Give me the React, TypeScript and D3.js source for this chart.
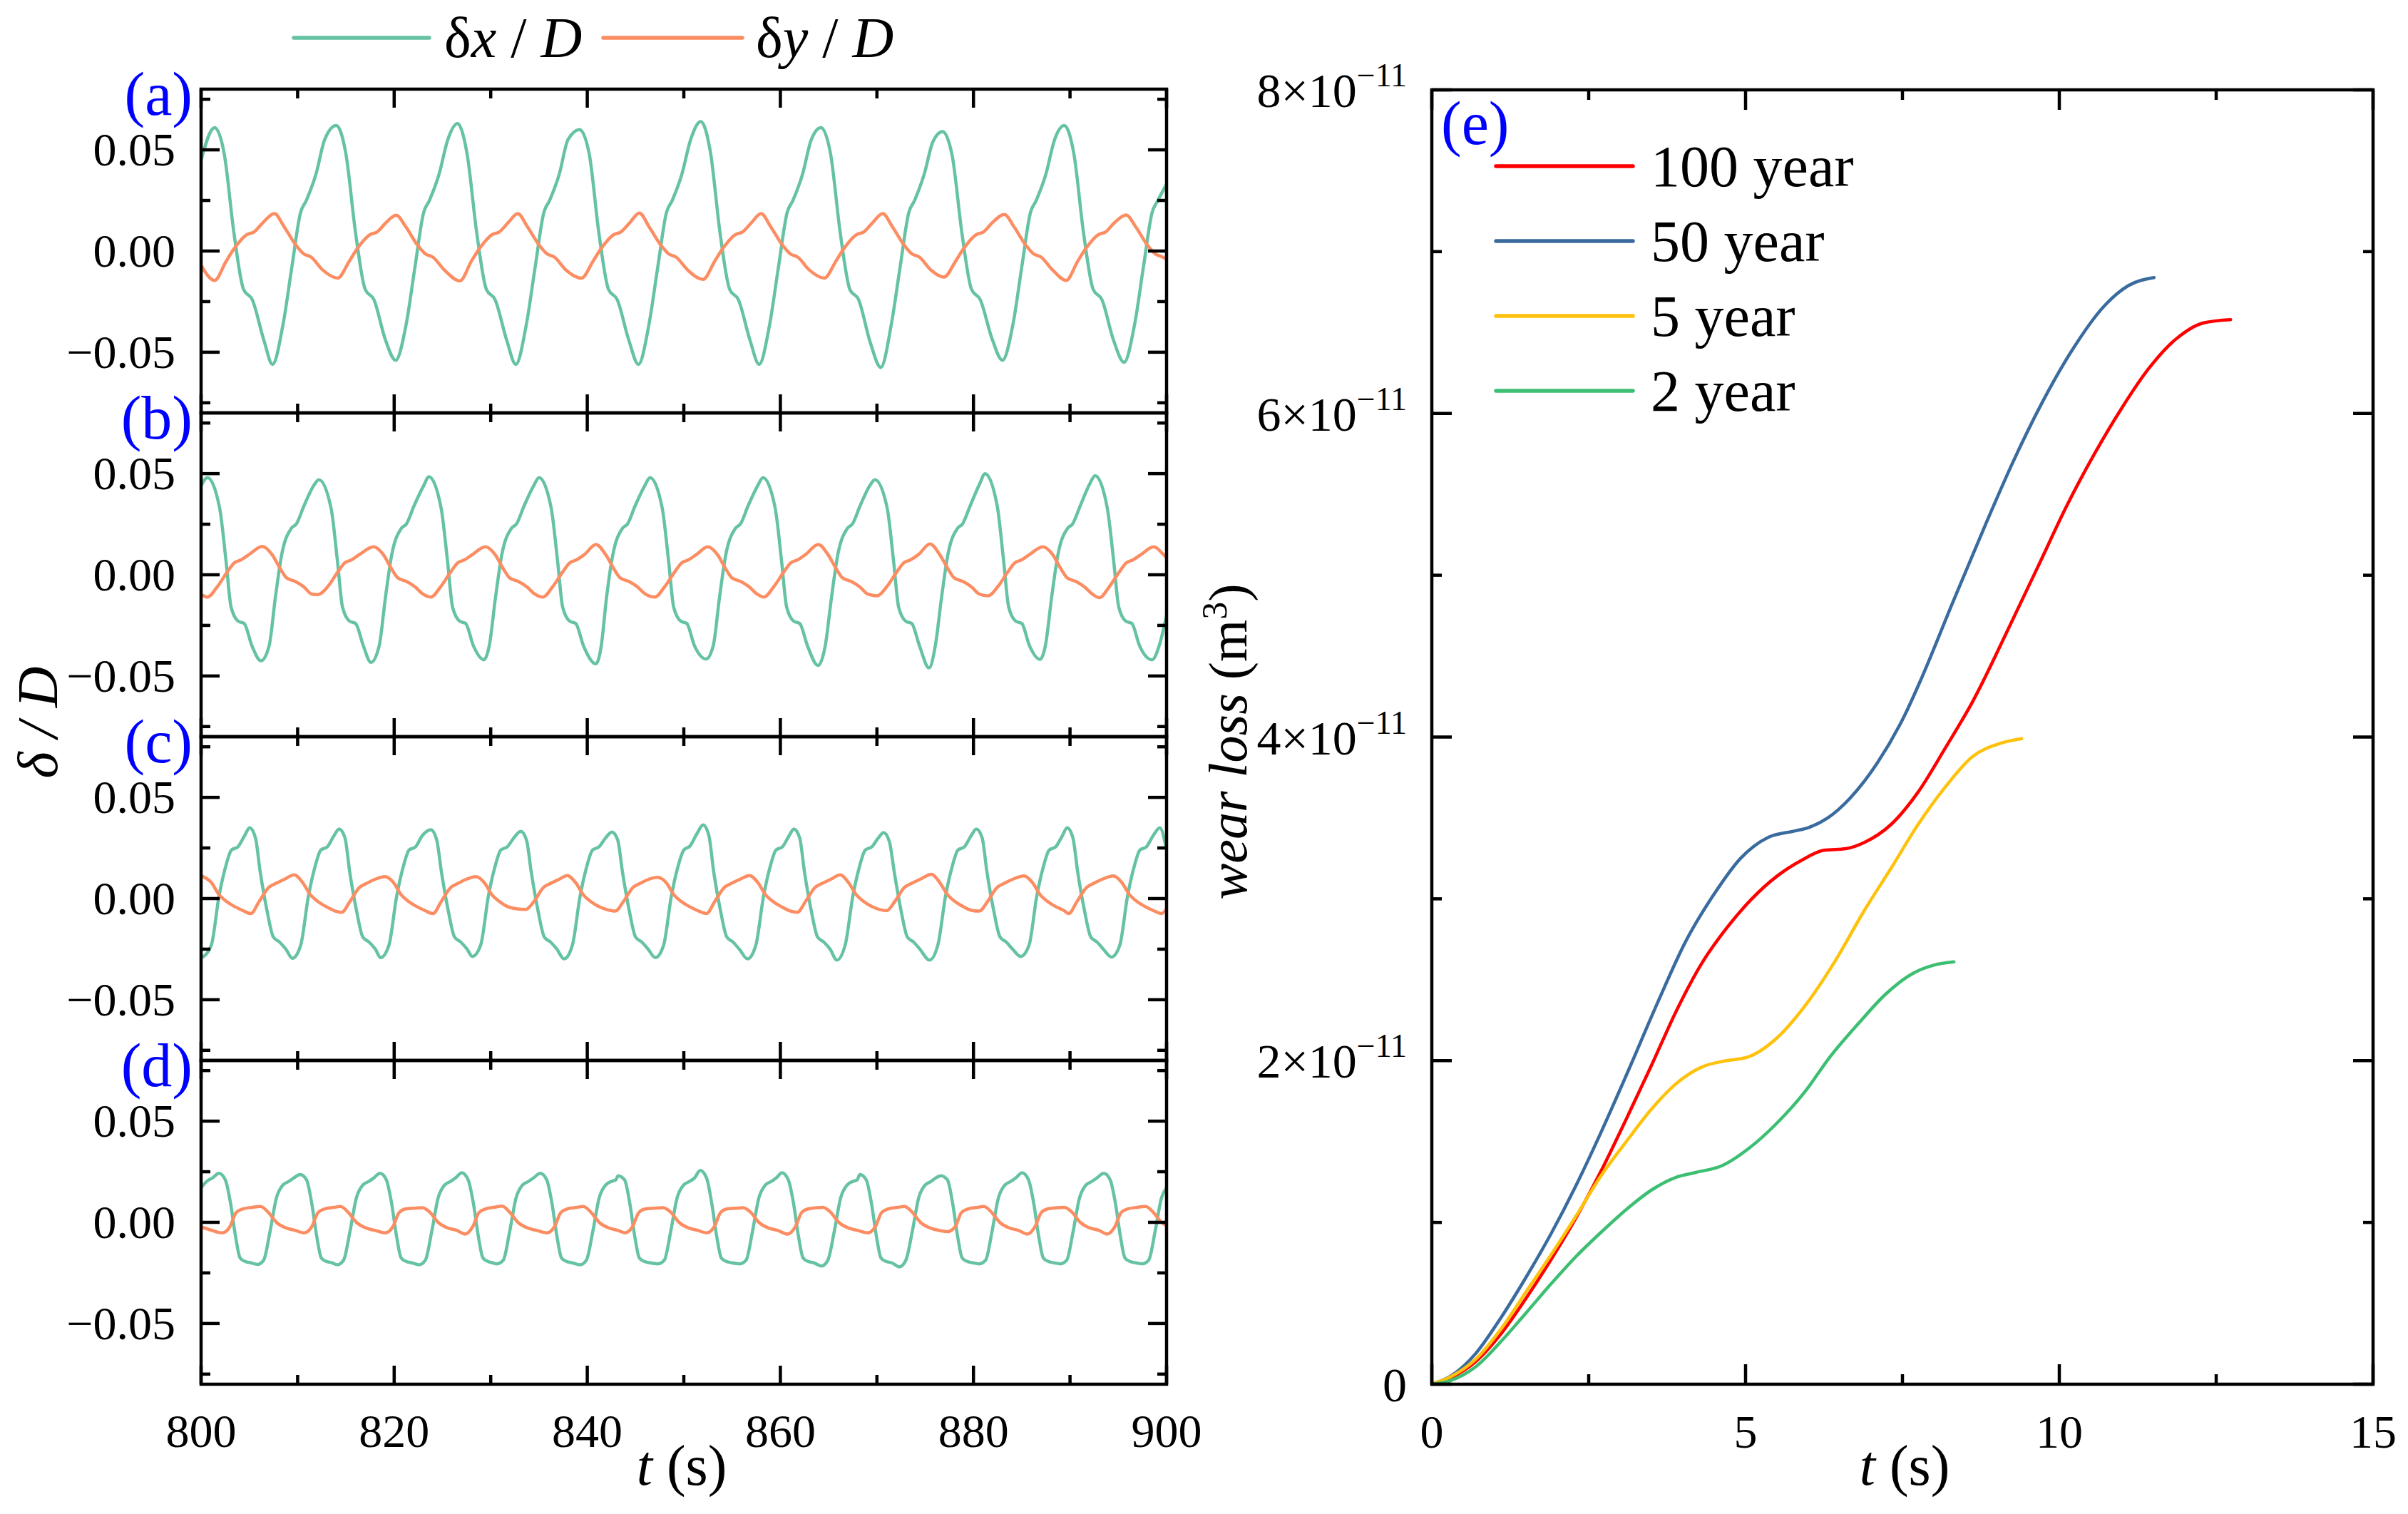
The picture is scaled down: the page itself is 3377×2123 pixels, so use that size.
//@ts-nocheck
import React, { Component } from "react";
import * as d3 from "d3";

const WIDTH = 3377;
const HEIGHT = 2123;
const FONT = "Liberation Serif, DejaVu Serif, serif";

// ---- panels (a)-(d): deflection time histories, [t (s), delta / D] ----
const dxA = [
  [800,0.045],[801.4,0.061],[802.4,0.048],[803.4,0.009],[804.4,-0.019],[805.3,-0.024],[806.5,-0.044],[807.4,-0.056],
  [808.5,-0.036],[809.4,-0.008],[810.3,0.019],[810.9,0.025],[811.9,0.038],[812.8,0.055],
  [814.0,0.062],[815.0,0.048],[816.0,0.009],[817.0,-0.019],[817.9,-0.024],[819.1,-0.044],[820.15,-0.054],
  [821.25,-0.036],[822.15,-0.008],[823.05,0.019],[823.65,0.025],[824.65,0.038],[825.55,0.055],
  [826.55,0.063],[827.55,0.048],[828.55,0.009],[829.55,-0.019],[830.45,-0.024],[831.65,-0.044],[832.6,-0.056],
  [833.7,-0.036],[834.6,-0.008],[835.5,0.019],[836.1,0.025],[837.1,0.038],[838.0,0.055],
  [839.2,0.060],[840.2,0.048],[841.2,0.009],[842.2,-0.019],[843.1,-0.024],[844.3,-0.044],[845.3,-0.056],
  [846.4,-0.036],[847.3,-0.008],[848.2,0.019],[848.8,0.025],[849.8,0.038],[850.7,0.055],
  [851.75,0.064],[852.75,0.049],[853.75,0.009],[854.75,-0.019],[855.65,-0.024],[856.85,-0.044],[857.8,-0.056],
  [858.9,-0.036],[859.8,-0.008],[860.7,0.019],[861.3,0.025],[862.3,0.038],[863.2,0.055],
  [864.2,0.061],[865.2,0.048],[866.2,0.009],[867.2,-0.019],[868.1,-0.024],[869.3,-0.045],[870.4,-0.0575],
  [871.5,-0.036],[872.4,-0.008],[873.3,0.019],[873.9,0.025],[874.9,0.038],[875.8,0.054],
  [876.8,0.059],[877.8,0.047],[878.8,0.009],[879.8,-0.019],[880.7,-0.024],[881.9,-0.043],[883.0,-0.054],
  [884.1,-0.036],[885.0,-0.008],[885.9,0.019],[886.5,0.025],[887.5,0.038],[888.4,0.055],
  [889.4,0.062],[890.4,0.048],[891.4,0.009],[892.4,-0.019],[893.3,-0.024],[894.5,-0.044],[895.6,-0.055],
  [896.7,-0.036],[897.6,-0.008],[898.5,0.019],[899.1,0.025],[900,0.033],
];
const dyA = [
  [800,-0.007],[801.4,-0.0145],[802.6,-0.005],[803.4,0.001],[804.7,0.008],[805.5,0.0095],[806.4,0.014],[807.6,0.0185],
  [808.6,0.012],[809.8,0.003],[810.6,-0.0013],[811.4,-0.003],[812.6,-0.0094],
  [814.15,-0.0134],[815.35,-0.005],[816.15,0.001],[817.45,0.008],[818.25,0.0095],[819.15,0.014],[820.2,0.0177],
  [821.2,0.012],[822.4,0.003],[823.2,-0.0013],[824.0,-0.003],[825.2,-0.0094],
  [826.8,-0.0148],[828.0,-0.005],[828.8,0.001],[830.1,0.008],[830.9,0.0095],[831.8,0.014],[832.8,0.0185],
  [833.8,0.012],[835.0,0.003],[835.8,-0.0013],[836.6,-0.003],[837.8,-0.0094],
  [839.4,-0.0134],[840.6,-0.005],[841.4,0.001],[842.7,0.008],[843.5,0.0095],[844.4,0.014],[845.4,0.0188],
  [846.4,0.012],[847.6,0.003],[848.4,-0.0013],[849.2,-0.003],[850.4,-0.0094],
  [852.0,-0.014],[853.2,-0.005],[854.0,0.001],[855.3,0.008],[856.1,0.0095],[857.0,0.014],[858.0,0.0185],
  [859.0,0.012],[860.2,0.003],[861.0,-0.0013],[861.8,-0.003],[863.0,-0.0094],
  [864.55,-0.0134],[865.75,-0.005],[866.55,0.001],[867.85,0.008],[868.65,0.0095],[869.55,0.014],[870.6,0.0185],
  [871.6,0.012],[872.8,0.003],[873.6,-0.0013],[874.4,-0.003],[875.6,-0.0094],
  [876.95,-0.0129],[878.15,-0.005],[878.95,0.001],[880.25,0.008],[881.05,0.0095],[881.95,0.014],[883.2,0.0181],
  [884.2,0.012],[885.4,0.003],[886.2,-0.0013],[887.0,-0.003],[888.2,-0.0094],
  [889.6,-0.0145],[890.8,-0.005],[891.6,0.001],[892.9,0.008],[893.7,0.0095],[894.6,0.014],[895.8,0.0178],
  [896.8,0.012],[898.0,0.003],[898.8,-0.0013],[899.6,-0.003],[900,-0.004],
];

const dxB = [
  [800,0.044],[800.66,0.048],[801.92,0.033],[802.58,0.007],[803.11,-0.016],[803.86,-0.023],[804.46,-0.024],[805.26,-0.035],[806.2,-0.0425],
  [807.05,-0.035],[807.7,-0.011],[808.35,0.010],[809.35,0.023],[809.85,0.025],[810.65,0.034],[811.65,0.044],
  [812.2,0.047],[813.46,0.033],[814.12,0.007],[814.65,-0.016],[815.4,-0.023],[816.0,-0.024],[816.8,-0.035],[817.6,-0.0433],
  [818.45,-0.035],[819.1,-0.011],[819.75,0.010],[820.75,0.023],[821.25,0.025],[822.05,0.034],[823.05,0.044],
  [823.6,0.0485],[824.86,0.033],[825.52,0.007],[826.05,-0.016],[826.8,-0.023],[827.4,-0.024],[828.2,-0.035],[829.3,-0.042],
  [829.85,-0.035],[830.5,-0.011],[831.15,0.010],[832.15,0.023],[832.65,0.025],[833.45,0.034],[834.45,0.044],
  [835.0,0.048],[836.26,0.033],[836.92,0.007],[837.45,-0.016],[838.2,-0.023],[838.8,-0.024],[839.6,-0.035],[840.9,-0.044],
  [841.45,-0.035],[842.0,-0.011],[842.65,0.010],[843.65,0.023],[844.15,0.025],[844.95,0.034],[845.95,0.044],
  [846.5,0.048],[847.76,0.033],[848.42,0.007],[848.95,-0.016],[849.7,-0.023],[850.3,-0.024],[851.1,-0.035],[852.3,-0.0416],
  [853.05,-0.035],[853.7,-0.011],[854.35,0.010],[855.35,0.023],[855.85,0.025],[856.65,0.034],[857.65,0.044],
  [858.2,0.048],[859.46,0.033],[860.12,0.007],[860.65,-0.016],[861.4,-0.023],[862.0,-0.024],[862.8,-0.035],[863.9,-0.0448],
  [864.65,-0.035],[865.3,-0.011],[865.95,0.010],[866.95,0.023],[867.45,0.025],[868.25,0.034],[869.25,0.044],
  [869.8,0.047],[871.06,0.033],[871.72,0.007],[872.25,-0.016],[873.0,-0.023],[873.6,-0.024],[874.4,-0.035],[875.4,-0.046],
  [876.05,-0.035],[876.7,-0.011],[877.35,0.010],[878.35,0.023],[878.85,0.025],[879.65,0.034],[880.65,0.045],
  [881.2,0.050],[882.46,0.034],[883.12,0.007],[883.65,-0.016],[884.4,-0.023],[885.0,-0.024],[885.8,-0.035],[886.9,-0.0418],
  [887.45,-0.035],[888.1,-0.011],[888.75,0.010],[889.75,0.023],[890.25,0.025],[891.05,0.034],[892.05,0.045],
  [892.6,0.049],[893.86,0.033],[894.52,0.007],[895.05,-0.016],[895.8,-0.023],[896.4,-0.024],[897.2,-0.035],[898.5,-0.042],
  [899.3,-0.034],[900,-0.02],
];
const dyB = [
  [800,-0.0098],[800.66,-0.011],[801.66,-0.006],[802.66,0.001],[803.46,0.006],[804.11,0.0073],[804.96,0.010],[806.35,0.014],
  [807.35,0.010],[808.2,0.003],[808.85,-0.0015],[809.75,-0.0033],[810.65,-0.006],[811.45,-0.0095],
  [812.1,-0.0098],[813.1,-0.006],[814.1,0.001],[814.9,0.006],[815.55,0.0073],[816.4,0.010],[817.87,0.0138],
  [818.87,0.010],[819.72,0.003],[820.37,-0.0015],[821.27,-0.0033],[822.17,-0.006],[822.97,-0.0095],
  [823.8,-0.011],[824.8,-0.006],[825.8,0.001],[826.6,0.006],[827.25,0.0073],[828.1,0.010],[829.45,0.0138],
  [830.45,0.010],[831.3,0.003],[831.95,-0.0015],[832.85,-0.0033],[833.75,-0.006],[834.55,-0.0095],
  [835.4,-0.011],[836.4,-0.006],[837.4,0.001],[838.2,0.006],[838.85,0.0073],[839.7,0.010],[840.9,0.015],
  [841.9,0.010],[842.75,0.003],[843.4,-0.0015],[844.3,-0.0033],[845.2,-0.006],[846.0,-0.0095],
  [847.0,-0.011],[848.0,-0.006],[849.0,0.001],[849.8,0.006],[850.45,0.0073],[851.3,0.010],[852.48,0.0138],
  [853.48,0.010],[854.33,0.003],[854.98,-0.0015],[855.88,-0.0033],[856.78,-0.006],[857.58,-0.0095],
  [858.3,-0.011],[859.3,-0.006],[860.3,0.001],[861.1,0.006],[861.75,0.0073],[862.6,0.010],[863.93,0.015],
  [864.93,0.010],[865.78,0.003],[866.43,-0.0015],[867.33,-0.0033],[868.23,-0.006],[869.03,-0.0095],
  [870.0,-0.0104],[871.0,-0.006],[872.0,0.001],[872.8,0.006],[873.45,0.0073],[874.3,0.010],[875.5,0.0152],
  [876.5,0.010],[877.35,0.003],[878.0,-0.0015],[878.9,-0.0033],[879.8,-0.006],[880.6,-0.0095],
  [881.5,-0.0104],[882.5,-0.006],[883.5,0.001],[884.3,0.006],[884.95,0.0073],[885.8,0.010],[887.2,0.0138],
  [888.2,0.010],[889.05,0.003],[889.7,-0.0015],[890.6,-0.0033],[891.5,-0.006],[892.3,-0.0095],
  [893.05,-0.0113],[894.05,-0.006],[895.05,0.001],[895.85,0.006],[896.5,0.0073],[897.35,0.010],[898.68,0.0138],
  [899.68,0.010],[900,0.0085],
];

const dxC = [
  [800,-0.0295],[801.06,-0.023],[801.85,0.001],[802.5,0.015],[803.15,0.024],[803.8,0.0255],[804.5,0.031],[805.03,0.035],
  [805.63,0.030],[806.13,0.013],[806.83,-0.006],[807.48,-0.019],[808.13,-0.0215],[808.78,-0.025],[809.46,-0.0295],
  [810.32,-0.023],[811.11,0.001],[811.76,0.015],[812.41,0.024],[813.06,0.0255],[813.76,0.031],[814.3,0.0344],
  [814.9,0.030],[815.4,0.013],[816.1,-0.006],[816.75,-0.019],[817.4,-0.0215],[818.05,-0.025],[818.6,-0.0292],
  [819.46,-0.023],[820.25,0.001],[820.9,0.015],[821.55,0.024],[822.2,0.0255],[822.9,0.031],[823.8,0.034],
  [824.4,0.029],[824.9,0.013],[825.6,-0.006],[826.25,-0.019],[826.9,-0.0215],[827.55,-0.025],[828.1,-0.0286],
  [828.96,-0.023],[829.75,0.001],[830.4,0.015],[831.05,0.024],[831.7,0.0255],[832.4,0.030],[833.1,0.0332],
  [833.7,0.029],[834.2,0.013],[834.9,-0.006],[835.55,-0.019],[836.2,-0.0215],[836.85,-0.025],[837.6,-0.0298],
  [838.46,-0.023],[839.25,0.001],[839.9,0.015],[840.55,0.024],[841.2,0.0255],[841.9,0.030],[842.55,0.0329],
  [843.15,0.029],[843.65,0.013],[844.35,-0.006],[845.0,-0.019],[845.65,-0.0215],[846.3,-0.025],[847.05,-0.0292],
  [847.91,-0.023],[848.7,0.001],[849.35,0.015],[850.0,0.024],[850.65,0.026],[851.35,0.032],[852.0,0.0364],
  [852.6,0.031],[853.1,0.013],[853.8,-0.006],[854.45,-0.019],[855.1,-0.0215],[855.75,-0.025],[856.6,-0.0298],
  [857.46,-0.023],[858.25,0.001],[858.9,0.015],[859.55,0.024],[860.2,0.0255],[860.9,0.031],[861.4,0.0344],
  [862.0,0.030],[862.5,0.013],[863.2,-0.006],[863.85,-0.019],[864.5,-0.0215],[865.15,-0.025],[865.85,-0.0304],
  [866.71,-0.023],[867.5,0.001],[868.15,0.015],[868.8,0.024],[869.45,0.0255],[870.15,0.030],[870.7,0.0326],
  [871.3,0.028],[871.8,0.013],[872.5,-0.006],[873.15,-0.019],[873.8,-0.0215],[874.45,-0.025],[875.45,-0.0304],
  [876.31,-0.023],[877.1,0.001],[877.75,0.015],[878.4,0.024],[879.05,0.0255],[879.75,0.031],[880.3,0.0344],
  [880.9,0.030],[881.4,0.013],[882.1,-0.006],[882.75,-0.019],[883.4,-0.0215],[884.05,-0.025],[884.9,-0.0286],
  [885.76,-0.023],[886.55,0.001],[887.2,0.015],[887.85,0.024],[888.5,0.0255],[889.2,0.031],[889.7,0.035],
  [890.3,0.030],[890.8,0.013],[891.5,-0.006],[892.15,-0.019],[892.8,-0.0215],[893.45,-0.025],[894.3,-0.0289],
  [895.16,-0.023],[895.95,0.001],[896.6,0.015],[897.25,0.024],[897.9,0.0255],[898.6,0.031],[899.3,0.035],
  [900,0.024],
];
const dyC = [
  [800,0.0112],[801.05,0.008],[801.85,0.002],[802.65,-0.0015],[803.5,-0.004],[804.35,-0.006],[805.16,-0.0074],
  [806.01,-0.0015],[807.01,0.0055],[807.66,0.0073],[808.66,0.0096],[809.66,0.0117],
  [810.51,0.008],[811.31,0.002],[812.11,-0.0015],[812.96,-0.004],[813.81,-0.006],[814.56,-0.0068],
  [815.41,-0.0015],[816.41,0.0055],[817.06,0.0073],[818.06,0.0096],[819.06,0.0108],
  [819.91,0.008],[820.71,0.002],[821.51,-0.0015],[822.36,-0.004],[823.21,-0.006],[824.02,-0.0074],
  [824.87,-0.0015],[825.87,0.0055],[826.52,0.0073],[827.52,0.0096],[828.46,0.0108],
  [829.31,0.008],[830.11,0.002],[830.91,-0.0015],[831.76,-0.004],[832.61,-0.005],[833.62,-0.0054],
  [834.47,-0.0015],[835.47,0.0055],[836.12,0.0073],[837.12,0.0096],[837.92,0.0114],
  [838.77,0.008],[839.57,0.002],[840.37,-0.0015],[841.22,-0.004],[842.07,-0.0055],[842.89,-0.0062],
  [843.74,-0.0015],[844.74,0.0055],[845.39,0.0073],[846.39,0.0096],[847.3,0.0105],
  [848.15,0.008],[848.95,0.002],[849.75,-0.0015],[850.6,-0.004],[851.45,-0.006],[852.35,-0.0074],
  [853.2,-0.0015],[854.2,0.0055],[854.85,0.0073],[855.85,0.0096],[856.8,0.0114],
  [857.65,0.008],[858.45,0.002],[859.25,-0.0015],[860.1,-0.004],[860.95,-0.006],[861.75,-0.0068],
  [862.6,-0.0015],[863.6,0.0055],[864.25,0.0073],[865.25,0.0096],[866.2,0.0117],
  [867.05,0.008],[867.85,0.002],[868.65,-0.0015],[869.5,-0.004],[870.35,-0.0055],[871.0,-0.006],
  [871.85,-0.0015],[872.85,0.0055],[873.5,0.0073],[874.5,0.0096],[875.65,0.012],
  [876.5,0.008],[877.3,0.002],[878.1,-0.0015],[878.95,-0.004],[879.8,-0.0058],[880.6,-0.0062],
  [881.45,-0.0015],[882.45,0.0055],[883.1,0.0073],[884.1,0.0096],[885.24,0.0112],
  [886.09,0.008],[886.89,0.002],[887.69,-0.0015],[888.54,-0.004],[889.39,-0.006],[889.87,-0.0074],
  [890.72,-0.0015],[891.72,0.0055],[892.37,0.0073],[893.37,0.0096],[894.5,0.0112],
  [895.35,0.008],[896.15,0.002],[896.95,-0.0015],[897.8,-0.004],[898.65,-0.006],[899.47,-0.0074],[900,-0.005],
];

const dxD = [
  [800,0.017],[800.6,0.0203],[801.2,0.022],[801.85,0.0242],
  [802.51,0.021],[803.05,0.0095],[803.57,-0.007],[804.03,-0.0175],[804.55,-0.0193],[805.15,-0.020],[805.82,-0.0208],
  [806.48,-0.0187],[807.14,-0.0046],[807.8,0.012],[808.47,0.0184],[809.12,0.0203],[809.62,0.022],[810.26,0.0236],
  [810.92,0.021],[811.46,0.0095],[811.98,-0.007],[812.44,-0.0175],[812.96,-0.0193],[813.56,-0.020],[814.1,-0.021],
  [814.76,-0.0187],[815.42,-0.0046],[816.08,0.012],[816.75,0.0184],[817.4,0.0203],[817.9,0.022],[818.53,0.0242],
  [819.19,0.021],[819.73,0.0095],[820.25,-0.007],[820.71,-0.0175],[821.23,-0.0193],[821.83,-0.020],[822.57,-0.021],
  [823.23,-0.0187],[823.89,-0.0046],[824.55,0.012],[825.22,0.0184],[825.87,0.0203],[826.37,0.022],[827.0,0.0245],
  [827.66,0.021],[828.2,0.0095],[828.72,-0.007],[829.18,-0.0175],[829.7,-0.0193],[830.2,-0.020],[830.64,-0.0205],
  [831.3,-0.0187],[831.96,-0.0046],[832.62,0.012],[833.29,0.0184],[833.94,0.0203],[834.44,0.022],[835.14,0.0242],
  [835.8,0.021],[836.34,0.0095],[836.86,-0.007],[837.32,-0.0175],[837.84,-0.0193],[838.44,-0.020],[839.25,-0.021],
  [839.91,-0.0187],[840.57,-0.0046],[841.23,0.012],[841.9,0.0184],[842.55,0.0203],[842.95,0.021],[843.2,0.023],
  [843.86,0.021],[844.4,0.0095],[844.92,-0.007],[845.38,-0.0175],[845.9,-0.0193],[846.5,-0.020],[847.32,-0.0205],
  [847.98,-0.0187],[848.64,-0.0046],[849.3,0.012],[849.97,0.0184],[850.62,0.0203],[851.12,0.022],[851.69,0.0256],
  [852.35,0.022],[852.89,0.0095],[853.41,-0.007],[853.87,-0.0175],[854.39,-0.0193],[854.99,-0.020],[855.79,-0.0205],
  [856.45,-0.0187],[857.11,-0.0046],[857.77,0.012],[858.44,0.0184],[859.09,0.0203],[859.59,0.022],[860.16,0.0245],
  [860.82,0.021],[861.36,0.0095],[861.88,-0.007],[862.34,-0.0175],[862.86,-0.0193],[863.46,-0.020],[864.26,-0.0216],
  [864.92,-0.0187],[865.58,-0.0046],[866.24,0.012],[866.91,0.0184],[867.56,0.0203],[867.96,0.021],[868.23,0.0236],
  [868.89,0.021],[869.43,0.0095],[869.95,-0.007],[870.41,-0.0175],[870.93,-0.0193],[871.53,-0.020],[872.34,-0.022],
  [873.0,-0.0187],[873.66,-0.0046],[874.32,0.012],[874.99,0.0184],[875.64,0.0203],[876.1,0.022],[876.64,0.023],
  [877.3,0.021],[877.84,0.0095],[878.36,-0.007],[878.82,-0.0175],[879.34,-0.0193],[879.94,-0.020],[880.6,-0.0205],
  [881.26,-0.0187],[881.92,-0.0046],[882.58,0.012],[883.25,0.0184],[883.9,0.0203],[884.4,0.022],[885.04,0.0245],
  [885.7,0.021],[886.24,0.0095],[886.76,-0.007],[887.22,-0.0175],[887.74,-0.0193],[888.34,-0.020],[889.0,-0.0205],
  [889.66,-0.0187],[890.32,-0.0046],[890.98,0.012],[891.65,0.0184],[892.3,0.0203],[892.8,0.022],[893.5,0.0242],
  [894.16,0.021],[894.7,0.0095],[895.22,-0.007],[895.68,-0.0175],[896.2,-0.0193],[896.8,-0.020],[897.49,-0.0205],
  [898.15,-0.0187],[898.81,-0.0046],[899.47,0.012],[900,0.017],
];
const dyD = [
  [800,-0.0022],[801.0,-0.0038],[802.18,-0.0052],
  [802.98,-0.0022],[803.63,0.0048],[804.28,0.0066],[805.28,0.0074],[806.15,0.0078],
  [806.95,0.005],[807.8,0.0],[808.8,-0.0028],[809.75,-0.004],[810.66,-0.0052],
  [811.46,-0.0022],[812.11,0.0048],[812.76,0.0066],[813.76,0.0074],[814.43,0.0078],
  [815.23,0.005],[816.08,0.0],[817.08,-0.0028],[818.03,-0.004],[819.06,-0.0052],
  [819.86,-0.0022],[820.51,0.0048],[821.16,0.0066],[822.16,0.0070],[822.9,0.0072],
  [823.7,0.005],[824.55,0.0],[825.55,-0.0028],[826.5,-0.004],[827.33,-0.0058],
  [828.13,-0.0022],[828.78,0.0048],[829.43,0.0066],[830.43,0.0075],[831.17,0.008],
  [831.97,0.005],[832.82,0.0],[833.82,-0.0028],[834.77,-0.004],[835.8,-0.0052],
  [836.6,-0.0022],[837.25,0.0048],[837.9,0.0066],[838.9,0.0074],[839.58,0.0078],
  [840.38,0.005],[841.23,0.0],[842.23,-0.0028],[843.18,-0.004],[843.88,-0.0052],
  [844.68,-0.0022],[845.33,0.0048],[845.98,0.0066],[846.98,0.0070],[847.85,0.0072],
  [848.65,0.005],[849.5,0.0],[850.5,-0.0028],[851.45,-0.004],[852.35,-0.0052],
  [853.15,-0.0022],[853.8,0.0048],[854.45,0.0066],[855.45,0.0070],[856.12,0.0072],
  [856.92,0.005],[857.77,0.0],[858.77,-0.0028],[859.72,-0.004],[860.75,-0.0058],
  [861.55,-0.0022],[862.2,0.0048],[862.85,0.0066],[863.75,0.0072],[864.4,0.0074],
  [865.2,0.005],[866.05,0.0],[867.05,-0.0028],[868.0,-0.004],[869.03,-0.0052],
  [869.83,-0.0022],[870.48,0.0048],[871.13,0.0066],[872.13,0.0074],[872.86,0.0078],
  [873.66,0.005],[874.51,0.0],[875.51,-0.0028],[876.46,-0.004],[877.3,-0.0046],
  [878.1,-0.0022],[878.75,0.0048],[879.4,0.0066],[880.4,0.0074],[881.07,0.0078],
  [881.87,0.005],[882.72,0.0],[883.72,-0.0028],[884.67,-0.004],[885.57,-0.0058],
  [886.37,-0.0022],[887.02,0.0048],[887.67,0.0066],[888.67,0.0072],[889.41,0.0074],
  [890.21,0.005],[891.06,0.0],[892.06,-0.0028],[893.01,-0.004],[893.84,-0.0058],
  [894.64,-0.0022],[895.29,0.0048],[895.94,0.0066],[896.94,0.0074],[897.82,0.0078],
  [898.62,0.005],[899.47,0.0],[900,-0.0015],
];

// ---- panel (e): wear loss, [t (s), wear loss in 1e-11 m^3] ----
const wear100 = [
  [0,0],[0.3,0.04],[0.7,0.14],[1.1,0.31],[1.5,0.53],[1.9,0.77],[2.3,1.03],[2.7,1.32],[3.1,1.64],[3.5,1.97],
  [3.9,2.31],[4.3,2.60],[4.7,2.82],[5.1,3.0],[5.5,3.14],[5.9,3.24],[6.25,3.30],[6.6,3.31],[6.9,3.35],[7.32,3.46],
  [7.75,3.66],[8.18,3.93],[8.62,4.22],[9.25,4.72],[9.68,5.07],[10.12,5.43],[10.56,5.75],[10.99,6.03],[11.43,6.28],
  [11.86,6.46],[12.3,6.56],[12.73,6.58],
];
const wear50 = [
  [0,0],[0.3,0.05],[0.7,0.19],[1.1,0.41],[1.5,0.66],[1.9,0.93],[2.3,1.23],[2.7,1.56],[3.1,1.91],[3.6,2.36],
  [4.05,2.74],[4.5,3.03],[4.92,3.25],[5.36,3.38],[5.79,3.42],[6.0,3.44],[6.31,3.50],[6.66,3.62],[7.1,3.84],
  [7.53,4.13],[7.8,4.36],[8.3,4.83],[8.82,5.31],[9.25,5.69],[9.73,6.07],[10.17,6.37],[10.73,6.67],[11.1,6.79],[11.51,6.84],
];
const wear5 = [
  [0,0],[0.3,0.046],[0.7,0.155],[1.1,0.34],[1.5,0.57],[1.9,0.80],[2.3,1.04],[2.7,1.29],[3.1,1.50],[3.5,1.70],
  [3.9,1.86],[4.3,1.96],[4.7,2.0],[5.02,2.02],[5.5,2.14],[5.93,2.33],[6.45,2.63],[6.88,2.92],[7.32,3.19],
  [7.75,3.46],[8.18,3.69],[8.62,3.88],[9.05,3.96],[9.4,3.99],
];
const wear2 = [
  [0,0],[0.3,0.023],[0.7,0.108],[1.1,0.263],[1.5,0.44],[1.9,0.62],[2.3,0.79],[2.7,0.94],[3.1,1.08],[3.5,1.20],
  [3.9,1.28],[4.22,1.31],[4.62,1.35],[5.06,1.46],[5.49,1.61],[5.93,1.80],[6.36,2.03],[6.8,2.23],[7.23,2.41],
  [7.67,2.54],[8.0,2.59],[8.32,2.61],
];

const tTicks = [800, 820, 840, 860, 880, 900];
const tMinor = [810, 830, 850, 870, 890];
const deltaTicks = [-0.05, 0, 0.05];
const deltaMinor = [-0.075, -0.025, 0.025, 0.075];
const wearTTicks = [0, 5, 10, 15];
const wearTMinor = [2.5, 7.5, 12.5];
const wearTicks = [0, 2, 4, 6, 8];
const wearMinor = [1, 3, 5, 7];
const panelNames = ["(a)", "(b)", "(c)", "(d)"];
const wearNames = ["100 year", "50 year", "5 year", "2 year"];

const panels = [
  { dx: dxA, dy: dyA },
  { dx: dxB, dy: dyB },
  { dx: dxC, dy: dyC },
  { dx: dxD, dy: dyD },
];
const wearSeries = [wear100, wear50, wear5, wear2];
const wearColors = ["#ff0000", "#3a6b9f", "#fec20c", "#3cbf72"];
const DX_COLOR = "#66c2a5";
const DY_COLOR = "#fc8d62";

class DeflectionWearChart extends Component {
  divRef = React.createRef();

  componentDidMount() {
    const root = d3.select(this.divRef.current);
    root.selectAll("*").remove();

    const svg = root
      .append("svg")
      .attr("width", WIDTH)
      .attr("height", HEIGHT)
      .attr("viewBox", `0 0 ${WIDTH} ${HEIGHT}`)
      .style("position", "absolute")
      .style("left", "0px")
      .style("top", "0px")
      .style("background", "#fff")
      .style("font-family", FONT);

    const tick = (x1, y1, x2, y2) =>
      svg.append("line")
        .attr("x1", x1).attr("y1", y1).attr("x2", x2).attr("y2", y2)
        .attr("stroke", "black").attr("stroke-width", 4.5);

    // ---------- left: (a)-(d) ----------
    const left = 282, right = 1636, top0 = 125, ph = 454;
    const x = d3.scaleLinear().domain([800, 900]).range([left, right]);
    const fmt = d3.format(".2f");

    panels.forEach((p, i) => {
      const top = top0 + i * ph;
      const bottom = top + ph;
      const y = d3.scaleLinear().domain([-0.08, 0.08]).range([bottom, top]);

      svg.append("clipPath").attr("id", `clip-${i}`)
        .append("rect").attr("x", left).attr("y", top).attr("width", right - left).attr("height", ph);

      const line = d3.line().x((d) => x(d[0])).y((d) => y(d[1])).curve(d3.curveMonotoneX);
      const g = svg.append("g").attr("clip-path", `url(#clip-${i})`);
      g.append("path").datum(p.dx).attr("d", line)
        .attr("fill", "none").attr("stroke", DX_COLOR).attr("stroke-width", 4.5).attr("stroke-linejoin", "round");
      g.append("path").datum(p.dy).attr("d", line)
        .attr("fill", "none").attr("stroke", DY_COLOR).attr("stroke-width", 4.5).attr("stroke-linejoin", "round");

      // inward ticks on all four sides
      tTicks.forEach((t) => { tick(x(t), top, x(t), top + 26); tick(x(t), bottom, x(t), bottom - 26); });
      tMinor.forEach((t) => { tick(x(t), top, x(t), top + 13); tick(x(t), bottom, x(t), bottom - 13); });
      deltaTicks.forEach((v) => { tick(left, y(v), left + 26, y(v)); tick(right, y(v), right - 26, y(v)); });
      deltaMinor.forEach((v) => { tick(left, y(v), left + 13, y(v)); tick(right, y(v), right - 13, y(v)); });

      svg.selectAll(null).data(deltaTicks).join("text")
        .attr("x", left - 36).attr("y", (v) => y(v) + 22)
        .attr("text-anchor", "end").attr("font-size", 66)
        .text((v) => fmt(v));

      svg.append("rect").attr("x", left).attr("y", top).attr("width", right - left).attr("height", ph)
        .attr("fill", "none").attr("stroke", "black").attr("stroke-width", 4.5);

      svg.append("text").attr("x", 270).attr("y", top + 36)
        .attr("text-anchor", "end").attr("font-size", 86).attr("fill", "#0000ff")
        .text(panelNames[i]);
    });

    const leftBottom = top0 + 4 * ph;
    svg.selectAll(null).data(tTicks).join("text")
      .attr("x", (t) => x(t)).attr("y", leftBottom + 88)
      .attr("text-anchor", "middle").attr("font-size", 66)
      .text((t) => t);

    const xt1 = svg.append("text").attr("x", (left + right) / 2 - 3).attr("y", 2082)
      .attr("text-anchor", "middle").attr("font-size", 80);
    xt1.append("tspan").attr("font-style", "italic").text("t");
    xt1.append("tspan").text(" (s)");

    const yl = svg.append("text").attr("transform", "translate(80,1013) rotate(-90)")
      .attr("text-anchor", "middle").attr("font-size", 80).attr("font-style", "italic");
    yl.append("tspan").text("\u03b4 / D");

    // legend on top
    const legend = [
      { x0: 412, x1: 602, tx: 623, color: DX_COLOR, v: "x" },
      { x0: 846, x1: 1041, tx: 1060, color: DY_COLOR, v: "y" },
    ];
    legend.forEach((l) => {
      svg.append("line").attr("x1", l.x0).attr("x2", l.x1).attr("y1", 53).attr("y2", 53)
        .attr("stroke", l.color).attr("stroke-width", 5.5).attr("stroke-linecap", "round");
      const t = svg.append("text").attr("x", l.tx).attr("y", 80).attr("font-size", 80);
      t.append("tspan").text("\u03b4");
      t.append("tspan").attr("font-style", "italic").text(l.v);
      t.append("tspan").text(" / ");
      t.append("tspan").attr("font-style", "italic").text("D");
    });

    // ---------- right: (e) ----------
    const wl = 2008, wr = 3328, wt = 126, wb = 1941;
    const xw = d3.scaleLinear().domain([0, 15]).range([wl, wr]);
    const yw = d3.scaleLinear().domain([0, 8]).range([wb, wt]);
    const wline = d3.line().x((d) => xw(d[0])).y((d) => yw(d[1])).curve(d3.curveMonotoneX);

    wearSeries.forEach((s, i) => {
      svg.append("path").datum(s).attr("d", wline)
        .attr("fill", "none").attr("stroke", wearColors[i]).attr("stroke-width", 4.5)
        .attr("stroke-linecap", "round").attr("stroke-linejoin", "round");
    });

    wearTTicks.forEach((t) => { tick(xw(t), wt, xw(t), wt + 28); tick(xw(t), wb, xw(t), wb - 28); });
    wearTMinor.forEach((t) => { tick(xw(t), wt, xw(t), wt + 14); tick(xw(t), wb, xw(t), wb - 14); });
    wearTicks.forEach((v) => { tick(wl, yw(v), wl + 28, yw(v)); tick(wr, yw(v), wr - 28, yw(v)); });
    wearMinor.forEach((v) => { tick(wl, yw(v), wl + 14, yw(v)); tick(wr, yw(v), wr - 14, yw(v)); });

    svg.append("rect").attr("x", wl).attr("y", wt).attr("width", wr - wl).attr("height", wb - wt)
      .attr("fill", "none").attr("stroke", "black").attr("stroke-width", 4.5);

    svg.selectAll(null).data(wearTTicks).join("text")
      .attr("x", (t) => xw(t)).attr("y", wb + 89)
      .attr("text-anchor", "middle").attr("font-size", 66)
      .text((t) => t);

    wearTicks.forEach((v) => {
      const lab = svg.append("text").attr("x", wl - 35).attr("y", yw(v) + 24)
        .attr("text-anchor", "end").attr("font-size", 68);
      if (v === 0) {
        lab.text("0");
      } else {
        lab.append("tspan").text(`${v}\u00d710`);
        lab.append("tspan").attr("font-size", 46).attr("dy", -29).text("\u221211");
      }
    });

    const xt2 = svg.append("text").attr("x", (wl + wr) / 2 + 3).attr("y", 2082)
      .attr("text-anchor", "middle").attr("font-size", 80);
    xt2.append("tspan").attr("font-style", "italic").text("t");
    xt2.append("tspan").text(" (s)");

    const yl2 = svg.append("text").attr("transform", "translate(1748,1040) rotate(-90)")
      .attr("text-anchor", "middle").attr("font-size", 76);
    yl2.append("tspan").attr("font-style", "italic").text("wear loss");
    yl2.append("tspan").text(" (m");
    yl2.append("tspan").attr("font-size", 50).attr("dy", -28).text("3");
    yl2.append("tspan").attr("dy", 28).text(")");

    svg.append("text").attr("x", 2021).attr("y", 202)
      .attr("font-size", 86).attr("fill", "#0000ff").text("(e)");

    wearNames.forEach((name, i) => {
      const ly = 233 + i * 105;
      svg.append("line").attr("x1", 2098).attr("x2", 2290).attr("y1", ly).attr("y2", ly)
        .attr("stroke", wearColors[i]).attr("stroke-width", 5.5).attr("stroke-linecap", "round");
      svg.append("text").attr("x", 2315).attr("y", ly + 28).attr("font-size", 82).text(name);
    });
  }

  render() {
    return <div ref={this.divRef}></div>;
  }
}

export default function App() {
  return <DeflectionWearChart />;
}
